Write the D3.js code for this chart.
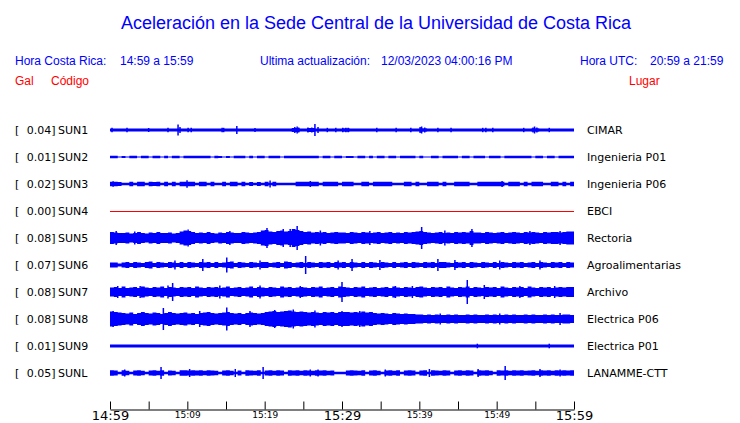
<!DOCTYPE html>
<html><head><meta charset="utf-8">
<script src="https://cdn.jsdelivr.net/npm/d3@7"></script>
<style>
html,body{margin:0;padding:0;background:#fff;}
svg{display:block;}
</style></head>
<body>
<svg id="chart" width="740" height="423"></svg>
<script>
// ---------- data ----------
const title = "Aceleración en la Sede Central de la Universidad de Costa Rica";
const codes  = ["SUN1","SUN2","SUN3","SUN4","SUN5","SUN6","SUN7","SUN8","SUN9","SUNL"];
const galMax = ["0.04","0.01","0.02","0.00","0.08","0.07","0.08","0.08","0.01","0.05"];
const places = ["CIMAR","Ingenieria P01","Ingenieria P06","EBCI","Rectoria","Agroalimentarias","Archivo","Electrica P06","Electrica P01","LANAMME-CTT"];
const tickMinutes = [0,5,10,15,20,25,30,35,40,45,50,55,60];
const tickLabels  = ["14:59","","15:09","","15:19","","15:29","","15:39","","15:49","","15:59"];
const majorTicks  = ["14:59","15:29","15:59"];

// envelope half-amplitudes, one value per 0.5-minute bin (120 bins)
const envSUN1 = [
1.6,1.6,1.6,1.6,1.6,1.6,1.6,1.6,1.6,1.6, 1.6,1.6,1.6,1.6,1.6,1.6,1.6,1.6,1.6,1.6,
1.6,1.6,1.6,1.6,1.6,1.6,1.6,1.6,1.6,1.6, 1.6,1.6,1.6,1.6,1.6,1.6,1.6,1.6,1.6,1.6,
1.6,1.6,1.6,1.6,1.6,1.6,1.6,2.0,2.0,1.6, 1.6,2.0,2.0,1.6,1.6,1.6,1.6,1.6,1.6,1.6,
1.8,1.8,1.6,1.6,1.6,1.6,1.6,1.6,1.6,1.6, 1.6,1.6,1.6,1.6,1.6,1.6,1.6,1.6,1.6,1.6,
1.8,1.8,1.6,1.6,1.6,1.6,1.6,1.6,1.6,1.6, 1.6,1.6,1.6,1.6,1.6,1.6,1.6,1.6,1.6,1.6,
1.6,1.6,1.6,1.6,1.6,1.6,1.6,1.6,1.6,1.8, 1.8,1.6,1.6,1.6,1.6,1.6,1.6,1.6,1.6,1.6];
const envSUN2 = [
1.3,1.3,0.6,1.0,0.6,1.3,1.3,0.6,1.3,1.3, 0.6,1.3,1.3,0.6,1.3,0.6,1.3,1.3,0.6,1.3,
1.3,1.3,1.3,1.3,1.3,1.3,0.6,1.3,1.0,0.6, 1.0,0.6,1.3,1.3,1.3,0.6,1.3,0.6,1.3,1.3,
0.6,1.3,1.3,1.3,0.6,1.3,1.3,1.3,1.3,1.3, 1.3,1.3,1.3,1.3,0.6,1.3,1.3,0.6,1.3,1.3,
0.6,1.0,1.0,0.6,1.3,1.3,0.6,1.3,0.6,1.3, 1.3,0.6,1.3,1.3,0.6,1.3,1.3,1.3,1.3,0.6,
1.3,0.6,0.6,1.3,1.3,0.6,1.3,1.3,1.3,1.3, 0.6,1.3,1.3,0.6,1.3,1.3,1.3,0.6,1.3,1.3,
1.3,0.6,1.3,1.3,1.3,1.3,1.3,1.3,1.3,0.6, 1.3,1.3,0.6,1.3,1.3,0.6,1.3,1.3,1.3,1.3];
const envSUN3 = [
2.3,2.3,2.0,1.3,1.3,2.3,1.3,2.3,2.3,1.3, 2.3,2.0,2.3,1.3,2.3,1.3,2.3,1.3,2.3,2.3,
2.3,2.3,1.3,2.3,2.3,1.3,2.3,1.3,1.3,2.3, 1.3,2.3,2.3,1.3,2.3,1.3,2.0,1.3,2.0,1.3,
2.3,1.3,2.3,1.3,1.3,1.3,1.3,1.3,2.3,2.3, 2.3,2.3,2.3,2.3,1.3,2.3,2.3,2.3,2.3,1.3,
2.3,2.3,2.3,1.3,1.3,2.3,2.3,1.3,2.3,2.3, 2.3,2.3,2.3,1.3,1.3,1.3,2.3,2.3,1.3,2.3,
1.3,1.3,2.3,2.3,2.3,1.3,2.3,1.3,1.3,2.3, 2.3,2.3,2.3,1.3,1.3,2.3,2.3,2.3,2.3,2.3,
2.3,2.3,1.3,2.3,2.3,2.3,1.3,2.3,1.3,2.3, 2.3,2.3,1.3,1.3,2.3,2.3,1.3,2.3,1.3,2.3];
const envSUN4 = new Array(120).fill(0);
const envSUN5 = [
6,5.5,5, 5,5.5,4.5,5,6,5,4.5,5.5,5,6,5,5,5.5,4.5,5,
6.5,7.5,7,6,
5,5.5,5,6,5,4.5,5.5,5,6,5.5,5,5,6,5.5,5,5.5,
6,7.5,8,6.5, 6,7,7.5,6.5,7, 9,8,7,
6,6.5,5.5,6,5.5,6,5,5.5,6,5.5,
5.5,5,6,5.5,5,6,5.5,5,5.5,6,5,5.5,6,5,5.5,5,6,5.5,6,6.5,7,
6,5.5,5,5.5,6,5,5.5,5,6,5.5,6,5.5,7,5.5,
5.5,5,6,5.5,5,5.5,6,5,5.5,6,5.5,5,6,5.5,6,5.5,5,6,5.5,6,6,5.5,6,6.5,6.5];
const envSUN6 = [
2.5,2.5,1.5,2.5,3,2,3,2.5,2,3, 3.5,2,3,2.5,2,3,2.5,2,3,2,
3,2.5,2,3,2.5,3,2,3,2,2.5, 3,3.5,2,3,2.5,2,3,2.5,2,3,
3,2,2.5,3,2,3.5,3,2,2.5,3, 2,3,2.5,2,3,2.5,3,2,3,2.5,
3,2,3,2.5,2,3,2,3,2.5,2, 3,2.5,2,3,2,2.5,3,2,3,2.5,
2,3,2.5,3,2,3,3,2.5,2,3, 2.5,3,2,3,2.5,2,3,2.5,2,3,
2,3,2.5,2,3,2.5,3,2,2.5,3, 2,3,2.5,2,3,2.5,3,2,3,2.5];
const envSUN7 = [
4.5,5,4,5.5,4,4.5,5,4,5.5,4.5, 4,5,4.5,5.5,4,5,4.5,4,5,4.5,
5,4,5.5,4.5,4,5,4.5,5,4,4.5, 5.5,4,4.5,5,4,4.5,5.5,4,5,4.5,
4,5,4.5,4,5.5,4.5,5,4,4.5,5, 4.5,4,5,4.5,5.5,4,4.5,5,4,5.5,
5,4.5,4,5,4.5,5.5,4,4.5,5,4, 4.5,5,4,5.5,4.5,4,5,4.5,4,5,
5.5,4.5,4,5,4.5,5,4,5.5,4.5,4, 5,4.5,5.5,4,5,4.5,4,5,4.5,5,
4,5.5,4.5,4,5,4.5,5,4,5.5,4.5, 4,5,4.5,5,4,4.5,5,4.5,5,5];
const envSUN8 = [
7.5,7,6.5,
6,5.5,6.5,5,6,7,6,5.5,6.5,6,5,6,7,6,5.5,6,6.5,5.5,6,5,6,6.5,7,6,5.5,6,6.5,7,6,5.5,6,5,6,6.5,6,5.5,6,
7,7.5,8,7,7.5,8,8.5,7.5,7,7.5,7,
6.5,7,6.5,6,7,6.5,7,6,7,7,
7,6.5,7,6.5,7.5,6.5,7,
6,5.5,6,5.5,5,6,5.5,5,5.5,5,5,4.5,
4.5,4,4.5,4,4.5,4,4,4.5,4,4.5,4,4,4.5,4,4.5,4,4,4.5,4,4.5,
4,4,4.5,4,4.5,4,4,4.5,4,4.5,4,4,4.5,4,4.5,4,4,4.5,4.5,4];
const envSUN9 = new Array(120).fill(1.5);
const envSUNL = [
2.7,2.5,1.2,2.7,2.2,1.2,2.5,2.7,2.2,1.2, 2.5,2.7,2.2,2.7,1.2,2.5,2.2,1.2,2.7,2.7,
2.5,2.7,2.5,2.7,2.2,2.7,2.5,2.2,1.2,2.5, 2.7,2.2,1.2,2.5,1.2,2.7,2.5,2.2,2.7,1.2,
2.5,2.7,2.2,2.7,2.5,1.2,2.7,2.5,2.7,2.2, 2.7,2.5,2.2,2.7,2.5,2.7,2.2,2.5,1.2,1.2,
1.2,2.5,2.7,2.5,2.2,2.7,1.2,2.5,2.7,2.2, 1.2,2.5,2.7,2.2,2.7,1.2,2.5,2.7,2.5,1.2,
2.5,2.7,1.2,2.7,2.5,2.2,2.7,2.5,1.2,2.5, 2.7,2.2,2.7,2.5,1.2,2.7,2.5,2.7,2.2,1.2,
2.7,2.5,2.7,2.2,2.7,2.5,2.7,2.2,2.5,2.7, 2.2,2.7,2.5,2.7,2.2,2.7,2.5,2.7,2.5,2.7];

// isolated peaks: [minute, half-amplitude]
const pkSUN1 = [[0.26,2.2],[2.2,2.3],[5.0,2],[7.5,2.2],[8.8,5.5],[9.05,3],[10.1,2.2],[10.5,2.2],[14.5,2.2],[14.7,2.2],[16.4,4],[18.75,2],[23.9,3],[24.2,3.5],[24.4,2.5],[25.6,2.5],[26.1,2.5],[26.5,6],[26.9,3],[28.1,2.2],[29.2,2.2],[30.1,2.2],[30.5,2.2],[30.8,2.2],[34.5,2.2],[37.0,2.2],[38.9,2.2],[40.1,3],[40.3,3.5],[40.7,2.5],[42.4,2.2],[44.1,2.2],[48.2,2.2],[48.6,2.2],[49.5,2.2],[53.5,2.2],[54.7,2.5],[54.9,3.5],[55.2,2.5],[56.8,2.2]];
const pkSUN2 = [];
const pkSUN3 = [[0.4,2.8],[9.96,3.8],[20.7,3.5],[25.9,3.0],[50.7,3.0]];
const pkSUN4 = [];
const pkSUN5 = [[0.8,7],[3.2,6.5],[10.1,8.5],[15.5,7],[20.3,10],[22.4,9],[23.3,9],[24.2,12],[27.2,7.5],[33.6,7],[40.3,11],[43.3,7.5],[46.8,9],[54.3,7],[58.2,7]];
const pkSUN6 = [[8.4,4.5],[12.0,6],[15.1,7.5],[19.4,4.5],[25.3,9],[29.5,4.5],[31.3,6],[34.9,5],[42.4,6],[44.6,5],[50.4,4.5],[55.6,4.5]];
const pkSUN7 = [[1.0,6],[3.9,6],[7.5,6.5],[8.1,9],[14.2,6.5],[19.4,6.5],[24.6,6],[30.0,10],[36.9,6],[39.1,6],[46.2,12],[48.4,7],[53.0,6],[57.5,6]];
const pkSUN8 = [[0.4,8],[6.9,11],[11.6,8],[15.1,11.5],[18.1,8],[21.3,9],[23.7,9.5],[26.5,8.5],[30.0,8],[32.3,8],[42.7,5.5],[50.4,5.5],[58.2,6]];
const pkSUN9 = [[47.5,2.3],[56.8,2.3]];
const pkSUNL = [[1.9,3.5],[6.6,6],[10.3,4],[16.2,4],[19.8,6],[25.9,3.5],[26.9,3.5],[35.6,3.5],[41.3,4],[47.6,4],[51.1,7],[55.6,4],[58.2,3.5]];

const envelopes = [envSUN1,envSUN2,envSUN3,envSUN4,envSUN5,envSUN6,envSUN7,envSUN8,envSUN9,envSUNL];
const peaks = [pkSUN1,pkSUN2,pkSUN3,pkSUN4,pkSUN5,pkSUN6,pkSUN7,pkSUN8,pkSUN9,pkSUNL];
const binMinutes = 0.5;

// ---------- drawing ----------
const svg = d3.select("#chart");
const blue = "#0000ff", red = "#ff0000";
const headFont = "'Liberation Sans', Arial, Helvetica, sans-serif";
const bodyFont = "'DejaVu Sans', Verdana, sans-serif";

const x = d3.scaleLinear().domain([0, 60]).range([110, 574]);
const y = d3.scalePoint().domain(codes).range([130, 373]);
const amp = d3.scaleLinear().domain([0, 12]).range([0, 12]);

// header
svg.append("text").attr("x", 376).attr("y", 29).attr("text-anchor", "middle")
  .attr("font-family", headFont).attr("font-size", 18).attr("fill", blue)
  .attr("textLength", 510).attr("lengthAdjust", "spacingAndGlyphs").text(title);

const hdr = [
  {t:"Hora Costa Rica:", x:15, c:blue},
  {t:"14:59 a 15:59", x:120, c:blue},
  {t:"Ultima actualización:", x:260, c:blue},
  {t:"12/03/2023 04:00:16 PM", x:381, c:blue},
  {t:"Hora UTC:", x:580, c:blue},
  {t:"20:59 a 21:59", x:650, c:blue}
];
svg.selectAll("text.hdr").data(hdr).join("text").attr("class","hdr")
  .attr("x", d => d.x).attr("y", 65).attr("font-family", headFont).attr("font-size", 12)
  .attr("fill", d => d.c).text(d => d.t);
const sub = [{t:"Gal", x:15},{t:"Código", x:51},{t:"Lugar", x:629}];
svg.selectAll("text.sub").data(sub).join("text").attr("class","sub")
  .attr("x", d => d.x).attr("y", 85).attr("font-family", headFont).attr("font-size", 12)
  .attr("fill", red).text(d => d.t);

// traces
const rows = svg.append("g");
codes.forEach((code, i) => {
  const cy = y(code);
  const env = envelopes[i];
  const g = rows.append("g");
  if (d3.max(env) === 0) {
    g.append("line").attr("x1", x(0)).attr("x2", x(60)).attr("y1", cy + 0.5).attr("y2", cy + 0.5)
      .attr("stroke", red).attr("stroke-width", 1);
  } else {
    const pts = env.map((a, k) => ({t: k * binMinutes, a}));
    pts.push({t: 60, a: env[env.length - 1]});
    const area = d3.area().x(d => x(d.t)).y0(d => cy - amp(d.a)).y1(d => cy + amp(d.a)).curve(d3.curveStepAfter);
    g.append("path").attr("d", area(pts)).attr("fill", blue);
    g.selectAll("line.pk").data(peaks[i]).join("line").attr("class","pk")
      .attr("x1", d => x(d[0])).attr("x2", d => x(d[0]))
      .attr("y1", d => cy - amp(d[1])).attr("y2", d => cy + amp(d[1]))
      .attr("stroke", blue).attr("stroke-width", 1.5);
  }
  // labels
  const ty = cy + 4;
  g.append("text").attr("x", 15).attr("y", ty).attr("font-family", bodyFont).attr("font-size", 11).text("[");
  g.append("text").attr("x", 55.5).attr("y", ty).attr("text-anchor", "end").attr("font-family", bodyFont).attr("font-size", 11).text(galMax[i] + "]");
  g.append("text").attr("x", 58).attr("y", ty).attr("font-family", bodyFont).attr("font-size", 11).text(code);
  g.append("text").attr("x", 587).attr("y", ty).attr("font-family", bodyFont).attr("font-size", 11).text(places[i]);
});

// time axis
const axis = d3.axisBottom(x).tickValues(tickMinutes).tickSizeInner(-8).tickSizeOuter(0)
  .tickFormat((d, k) => tickLabels[k]);
const ax = svg.append("g").attr("transform", "translate(0,409.5)").call(axis);
ax.select(".domain").attr("stroke", "#000");
ax.selectAll(".tick line").attr("stroke", "#000");
ax.selectAll(".tick text")
  .attr("font-family", bodyFont).attr("fill", "#000")
  .attr("font-size", d => majorTicks.includes(tickLabels[tickMinutes.indexOf(d)]) ? 13 : 9)
  .attr("dy", null)
  .attr("y", d => majorTicks.includes(tickLabels[tickMinutes.indexOf(d)]) ? 10.5 : 8.5);
</script>
</body></html>
